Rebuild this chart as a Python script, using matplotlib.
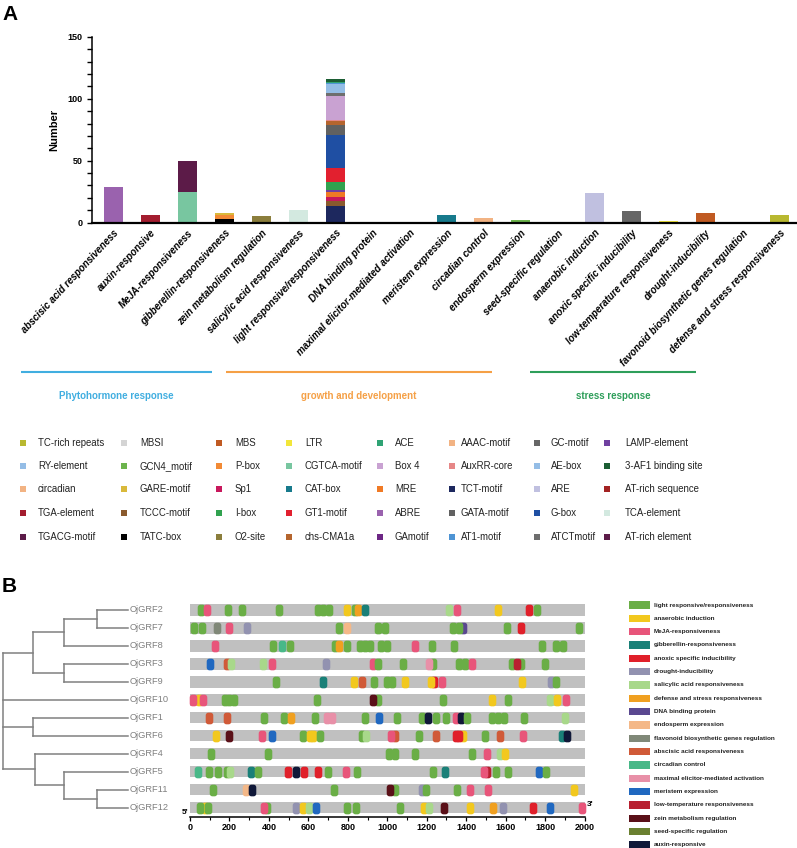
import numpy as np
import matplotlib
matplotlib.use('Agg')
import matplotlib.pyplot as plt
from matplotlib.path import Path
from matplotlib.patches import Rectangle

plt.rcParams['font.family'] = ['Liberation Sans', 'DejaVu Sans']

# ---------------- panel A data ----------------
categories = [
    'abscisic acid responsiveness', 'auxin-responsive', 'MeJA-responsiveness',
    'gibberellin-responsiveness', 'zein metabolism regulation',
    'salicylic acid responsiveness', 'light responsive/responsiveness',
    'DNA binding protein', 'maximal elicitor-mediated activation',
    'meristem expression', 'circadian control', 'endosperm expression',
    'seed-specific regulation', 'anaerobic induction',
    'anoxic specific inducibility', 'low-temperature responsiveness',
    'drought-inducibility', 'favonoid biosynthetic genes regulation',
    'defense and stress responsiveness',
]

# stacked counts per category, bottom to top: (motif, count)
stacks = [
    [('ABRE', 29)],
    [('TGA-element', 6)],
    [('CGTCA-motif', 25), ('TGACG-motif', 25)],
    [('TATC-box', 3), ('P-box', 3), ('GARE-motif', 2)],
    [('O2-site', 5)],
    [('TCA-element', 10)],
    [('TCT-motif', 13), ('TCCC-motif', 4), ('Sp1', 4), ('MRE', 4),
     ('LAMP-element', 1), ('I-box', 7), ('GT1-motif', 11), ('G-box', 27),
     ('GATA-motif', 8), ('chs-CMA1a', 3), ('AuxRR-core', 1), ('Box 4', 19),
     ('ATCTmotif', 3), ('AE-box', 7), ('AT1-motif', 1), ('ACE', 1),
     ('3-AF1 binding site', 2)],
    [],
    [],
    [('CAT-box', 6)],
    [('circadian', 4)],
    [('GCN4_motif', 2)],
    [],
    [('ARE', 24)],
    [('GC-motif', 9)],
    [('LTR', 1)],
    [('MBS', 8)],
    [],
    [('TC-rich repeats', 6)],
]

motif_colors = {
    'TC-rich repeats': '#b8b830', 'RY-element': '#94bde6', 'circadian': '#f2b383',
    'TGA-element': '#a31d2f', 'TGACG-motif': '#5c1b48',
    'MBSI': '#d4d4d4', 'GCN4_motif': '#6cb44c', 'GARE-motif': '#d9b93b',
    'TCCC-motif': '#8a5a2e', 'TATC-box': '#000000',
    'MBS': '#c05a22', 'P-box': '#f28a35', 'Sp1': '#c8185c', 'I-box': '#31a24f',
    'O2-site': '#8b7e3c',
    'LTR': '#f2e63a', 'CGTCA-motif': '#78c6a0', 'CAT-box': '#177a8c',
    'GT1-motif': '#e2202f', 'chs-CMA1a': '#b5652e',
    'ACE': '#2fa374', 'Box 4': '#c9a2d2', 'MRE': '#f07a25', 'ABRE': '#9a62ae',
    'GAmotif': '#6d2685',
    'AAAC-motif': '#f2b383', 'AuxRR-core': '#e68787', 'TCT-motif': '#1d285e',
    'GATA-motif': '#616161', 'AT1-motif': '#4e94d4',
    'GC-motif': '#666666', 'AE-box': '#94bde6', 'ARE': '#c0c0e0',
    'G-box': '#1f4fa3', 'ATCTmotif': '#6e6e6e',
    'LAMP-element': '#7040a0', '3-AF1 binding site': '#1c5e34',
    'AT-rich sequence': '#a32222', 'TCA-element': '#d3e9e0',
    'AT-rich element': '#5c1b48',
}

legend_columns = [
    ['TC-rich repeats', 'RY-element', 'circadian', 'TGA-element', 'TGACG-motif'],
    ['MBSI', 'GCN4_motif', 'GARE-motif', 'TCCC-motif', 'TATC-box'],
    ['MBS', 'P-box', 'Sp1', 'I-box', 'O2-site'],
    ['LTR', 'CGTCA-motif', 'CAT-box', 'GT1-motif', 'chs-CMA1a'],
    ['ACE', 'Box 4', 'MRE', 'ABRE', 'GAmotif'],
    ['AAAC-motif', 'AuxRR-core', 'TCT-motif', 'GATA-motif', 'AT1-motif'],
    ['GC-motif', 'AE-box', 'ARE', 'G-box', 'ATCTmotif'],
    ['LAMP-element', '3-AF1 binding site', 'AT-rich sequence', 'TCA-element',
     'AT-rich element'],
]

groups = ['Phytohormone response', 'growth and development', 'stress response']
group_colors = ['#41aee0', '#f5a046', '#2e9e5a']

# ---------------- panel B data ----------------
genes = ['OjGRF2', 'OjGRF7', 'OjGRF8', 'OjGRF3', 'OjGRF9', 'OjGRF10',
         'OjGRF1', 'OjGRF6', 'OjGRF4', 'OjGRF5', 'OjGRF11', 'OjGRF12']

# tree: (node depth, children)
tree = (3, [(33, [(64, [(97, ['OjGRF2', 'OjGRF7']), 'OjGRF8']),
                  (64, ['OjGRF3', 'OjGRF9'])]),
            'OjGRF10',
            (33, ['OjGRF1', 'OjGRF6']),
            (35, ['OjGRF4', (64, ['OjGRF5', (97, ['OjGRF11', 'OjGRF12'])])])])

elem_keys = ['light', 'anaer', 'meja', 'gib', 'anox', 'drought', 'sal', 'def',
             'dna', 'endo', 'flav', 'aba', 'circ', 'elic', 'meri', 'lowt',
             'zein', 'seed', 'aux']
elem_labels = [
    'light responsive/responsiveness', 'anaerobic induction',
    'MeJA-responsiveness', 'gibberellin-responsiveness',
    'anoxic specific inducibility', 'drought-inducibility',
    'salicylic acid responsiveness', 'defense and stress responsiveness',
    'DNA binding protein', 'endosperm expression',
    'flavonoid biosynthetic genes regulation', 'abscisic acid responsiveness',
    'circadian control', 'maximal elicitor-mediated activation',
    'meristem expression', 'low-temperature responsiveness',
    'zein metabolism regulation', 'seed-specific regulation', 'auxin-responsive',
]
elem_colors = ['#6aae46', '#f2c81e', '#e8557a', '#1a8078', '#e0202a',
               '#9292b0', '#a8d88a', '#f0a020', '#5a4890', '#f4b888',
               '#808878', '#d05a38', '#48b888', '#e890a8', '#2068c0',
               '#b82030', '#5a1018', '#6a8030', '#101838']

GRF2 = [(54, 'light'), (88, 'meja'), (195, 'light'), (266, 'light'),
        (452, 'light'), (651, 'light'), (676, 'light'), (705, 'light'),
        (798, 'anaer'), (837, 'light'), (854, 'def'), (888, 'gib'),
        (1315, 'sal'), (1352, 'meja'), (1563, 'anaer'), (1720, 'anox'),
        (1761, 'light')]
GRF7 = [(21, 'light'), (63, 'light'), (139, 'flav'), (200, 'meja'),
        (291, 'drought'), (757, 'light'), (795, 'endo'), (952, 'light'),
        (989, 'light'), (1386, 'dna'), (1335, 'light'), (1364, 'light'),
        (1609, 'light'), (1678, 'anox'), (1974, 'light')]
GRF8 = [(127, 'meja'), (423, 'light'), (468, 'circ'), (507, 'light'),
        (736, 'light'), (756, 'def'), (798, 'light'), (862, 'light'),
        (888, 'light'), (913, 'light'), (969, 'light'), (1001, 'light'),
        (1141, 'meja'), (1229, 'light'), (1340, 'light'), (1783, 'light'),
        (1856, 'light'), (1889, 'light')]
GRF3 = [(102, 'meri'), (190, 'aba'), (208, 'sal'), (372, 'sal'),
        (418, 'meja'), (690, 'drought'), (926, 'meja'), (955, 'light'),
        (1082, 'light'), (1230, 'light'), (1212, 'elic'), (1366, 'light'),
        (1394, 'light'), (1428, 'meja'), (1631, 'light'), (1677, 'light'),
        (1660, 'lowt'), (1800, 'light')]
GRF9 = [(435, 'light'), (676, 'gib'), (832, 'anaer'), (871, 'aba'),
        (935, 'light'), (997, 'light'), (1023, 'light'), (1090, 'anaer'),
        (1236, 'anox'), (1220, 'anaer'), (1279, 'meja'), (1681, 'anaer'),
        (1830, 'drought'), (1856, 'light')]
GRF10 = [(44, 'anaer'), (17, 'meja'), (68, 'meja'), (175, 'light'),
         (200, 'light'), (225, 'light'), (643, 'light'), (952, 'light'),
         (930, 'zein'), (1281, 'light'), (1533, 'anaer'), (1614, 'light'),
         (1825, 'sal'), (1862, 'anaer'), (1905, 'meja')]
GRF1 = [(97, 'aba'), (186, 'aba'), (377, 'light'), (479, 'light'),
        (512, 'def'), (634, 'light'), (693, 'elic'), (719, 'elic'),
        (888, 'light'), (959, 'meri'), (1050, 'light'), (1175, 'light'),
        (1208, 'aux'), (1247, 'light'), (1298, 'light'), (1349, 'meja'),
        (1372, 'aux'), (1406, 'light'), (1533, 'light'), (1563, 'light'),
        (1592, 'light'), (1695, 'light'), (1901, 'sal')]
GRF6 = [(130, 'anaer'), (198, 'zein'), (367, 'meja'), (414, 'meri'),
        (572, 'light'), (609, 'anaer'), (626, 'anaer'), (660, 'light'),
        (871, 'light'), (891, 'sal'), (1040, 'aba'), (1020, 'meja'),
        (1163, 'light'), (1246, 'aba'), (1385, 'anaer'), (1347, 'anox'),
        (1364, 'anox'), (1496, 'light'), (1572, 'aba'), (1690, 'meja'),
        (1884, 'gib'), (1910, 'aux')]
GRF4 = [(105, 'light'), (394, 'light'), (1008, 'light'), (1040, 'light'),
        (1141, 'light'), (1431, 'light'), (1507, 'meja'), (1572, 'sal'),
        (1597, 'anaer')]
GRF5 = [(43, 'circ'), (98, 'light'), (141, 'light'), (186, 'light'),
        (205, 'sal'), (308, 'gib'), (343, 'light'), (499, 'anox'),
        (536, 'aux'), (578, 'anox'), (651, 'anox'), (698, 'light'),
        (791, 'meja'), (849, 'light'), (1234, 'light'), (1293, 'gib'),
        (1506, 'lowt'), (1490, 'meja'), (1550, 'light'), (1614, 'light'),
        (1770, 'meri'), (1805, 'light')]
GRF11 = [(119, 'light'), (284, 'endo'), (313, 'aux'), (732, 'light'),
         (1040, 'light'), (1012, 'zein'), (1175, 'drought'), (1195, 'light'),
         (1355, 'light'), (1420, 'meja'), (1511, 'meja'), (1948, 'anaer')]
GRF12 = [(76, 'anaer'), (51, 'light'), (93, 'light'), (392, 'light'),
         (376, 'meja'), (538, 'drought'), (575, 'anaer'), (604, 'sal'),
         (639, 'meri'), (795, 'light'), (842, 'light'), (1065, 'light'),
         (1186, 'anaer'), (1212, 'sal'), (1289, 'zein'), (1420, 'anaer'),
         (1538, 'def'), (1585, 'drought'), (1741, 'anox'), (1825, 'meri'),
         (1989, 'meja')]
gene_sites = [GRF2, GRF7, GRF8, GRF3, GRF9, GRF10, GRF1, GRF6, GRF4, GRF5,
              GRF11, GRF12]

# ---------------- figure ----------------
fig = plt.figure(figsize=(7.97, 8.48), dpi=100)
W, H = 797, 848

ov = fig.add_axes([0, 0, 1, 1])
ov.set_xlim(0, W)
ov.set_ylim(H, 0)
ov.axis('off')

# panel A bars
ax = fig.add_axes([92 / W, 1 - 222.5 / H, 705 / W, (222.5 - 37) / H])
for i, segs in enumerate(stacks):
    bottom = 0
    for name, n in segs:
        ax.bar(i, n, bottom=bottom, width=0.52, color=motif_colors[name],
               linewidth=0)
        bottom += n
ax.set_xlim(-0.58, 18.47)
ax.set_ylim(0, 150)
ax.set_yticks([0, 50, 100, 150])
ax.set_yticks(np.arange(0, 151, 10), minor=True)
ax.tick_params(axis='y', which='both', length=3.5, width=1, labelsize=6.5)
for t in ax.get_yticklabels():
    t.set_fontweight('bold')
ax.set_xticks(range(len(categories)))
ax.set_xticklabels(categories, rotation=47, ha='right', rotation_mode='anchor',
                   fontsize=7, fontstyle='italic', fontweight='bold')
ax.tick_params(axis='x', length=0, pad=4)
ax.set_ylabel('Number', fontsize=8, fontweight='bold', labelpad=6)
for s in ['top', 'right']:
    ax.spines[s].set_visible(False)
ax.spines['bottom'].set_linewidth(1.6)
ax.spines['left'].set_linewidth(1.1)

# group lines
group_spans = [(21, 212), (226, 492), (530, 696)]
for (x0, x1), g, c in zip(group_spans, groups, group_colors):
    ov.plot([x0, x1], [372, 372], color=c, lw=1.5, solid_capstyle='butt')
    ov.text((x0 + x1) / 2, 396, g, color=c, fontsize=7, fontweight='bold',
            ha='center', va='center')

# legend A
col_marker_x = [23, 124, 219, 289, 380, 452, 537, 607]
col_text_x = [38, 140, 235, 305, 395, 461, 551, 625]
row_y = [443, 466, 489, 513, 537]
for mx, tx, col in zip(col_marker_x, col_text_x, legend_columns):
    for y, name in zip(row_y, col):
        ov.scatter(mx, y, marker='s', s=17, color=motif_colors[name],
                   linewidths=0)
        ov.text(tx, y, name, fontsize=6.9, va='center', ha='left',
                color='#222222')

# panel letters
ov.text(2, 15, 'A', fontsize=15, fontweight='bold', va='center', ha='left')
ov.text(2, 586, 'B', fontsize=15, fontweight='bold', va='center', ha='left')

# panel B element bars
row0, dy = 610, 17.97
ybot = (817 - row0) / dy
ytop = -0.6
axb = fig.add_axes([190 / W, 1 - 817 / H, 394.5 / W, (817 - (row0 + ytop * dy)) / H])
axb.set_xlim(0, 2000)
axb.set_ylim(ybot, ytop)

# rounded capsule marker
r = 0.36
hw, hh = 0.5, 0.77
pts = []
for cx, cy, a0 in [(hw - r, hh - r, 0), (-hw + r, hh - r, 90),
                   (-hw + r, -hh + r, 180), (hw - r, -hh + r, 270)]:
    th = np.radians(np.linspace(a0, a0 + 90, 8))
    pts += list(zip(cx + r * np.cos(th), cy + r * np.sin(th)))
pts.append(pts[0])
capsule = Path(pts, closed=True)

color_of = dict(zip(elem_keys, elem_colors))
for i, sites in enumerate(gene_sites):
    axb.barh(i, 2000, left=0, height=0.63, color='#c0c0c0', linewidth=0,
             zorder=1)
    for pos, key in sites:
        axb.scatter(pos, i, marker=capsule, s=8.4 ** 2, color=color_of[key],
                    linewidths=0, zorder=3, clip_on=False)

axb.set_xticks(np.arange(0, 2001, 200))
axb.set_xticks(np.arange(0, 2001, 100), minor=True)
axb.tick_params(axis='x', which='major', length=3, width=0.9, labelsize=6.5,
                pad=1.5)
axb.tick_params(axis='x', which='minor', length=1.8, width=0.8)
for t in axb.get_xticklabels():
    t.set_fontweight('bold')
axb.set_yticks([])
for s in ['top', 'right', 'left']:
    axb.spines[s].set_visible(False)
axb.spines['bottom'].set_linewidth(1.1)
axb.text(-8, (812 - row0) / dy, "5'", fontsize=6, fontweight='bold',
         ha='right', va='center')
axb.text(2010, (805 - row0) / dy, "3'", fontsize=6, fontweight='bold',
         ha='left', va='center')

# tree
axt = fig.add_axes([0, 1 - 817 / H, 190 / W, (817 - (row0 + ytop * dy)) / H])
axt.set_xlim(0, 190)
axt.set_ylim(ybot, ytop)
axt.axis('off')
tree_color = '#808080'
leaf_x = 128


def draw_node(node, parent_x):
    if isinstance(node, str):
        y = genes.index(node)
        axt.plot([parent_x, leaf_x], [y, y], color=tree_color, lw=1.1)
        axt.text(leaf_x + 2, y, node, fontsize=6.7, color=tree_color,
                 va='center', ha='left')
        return y
    x, kids = node
    ys = [draw_node(k, x) for k in kids]
    axt.plot([x, x], [min(ys), max(ys)], color=tree_color, lw=1.1)
    y = (min(ys) + max(ys)) / 2
    if parent_x is not None:
        axt.plot([parent_x, x], [y, y], color=tree_color, lw=1.1)
    return y


draw_node(tree, None)

# legend B
for k, (lab, c) in enumerate(zip(elem_labels, elem_colors)):
    y = 605 + k * 13.33
    ov.add_patch(Rectangle((629, y - 3.7), 21, 7.4, color=c, linewidth=0))
    ov.text(654, y, lab, fontsize=4.6, fontweight='bold', va='center',
            ha='left', color='#222222')

fig.savefig('out.png', dpi=100)
